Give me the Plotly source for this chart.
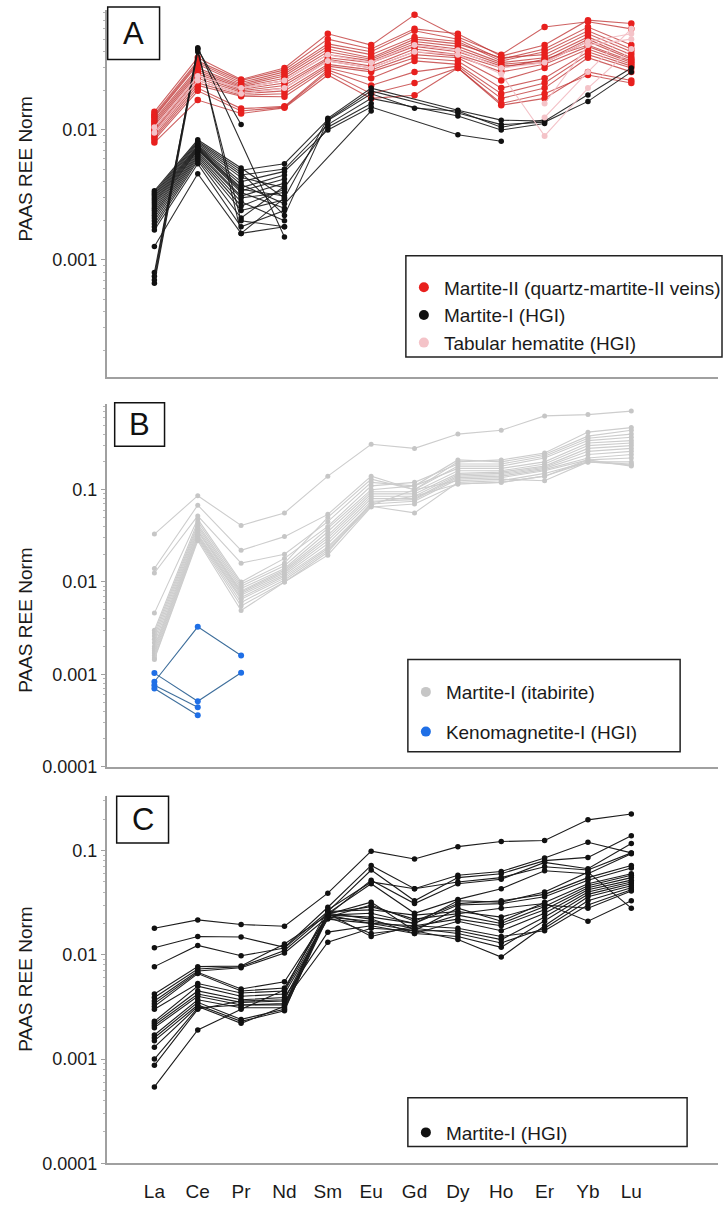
import plotly.graph_objects as go

# ---------------- data ----------------
ELEMENTS = ["La", "Ce", "Pr", "Nd", "Sm", "Eu", "Gd", "Dy", "Ho", "Er", "Yb", "Lu"]
N = None

# Panel A - Martite-II (quartz-martite-II veins)
A_MARTITE_II = [
    [0.0138, 0.036, 0.0245, 0.030, 0.055, 0.045, 0.077, 0.052, 0.038, 0.062, 0.068, 0.060],
    [0.0132, 0.034, 0.0240, 0.029, 0.050, 0.042, 0.060, 0.055, 0.037, 0.045, 0.070, 0.066],
    [0.0128, 0.033, 0.0232, 0.028, 0.046, 0.040, 0.058, 0.050, 0.035, 0.042, 0.062, 0.045],
    [0.0125, 0.032, 0.0225, 0.027, 0.044, 0.038, 0.052, 0.048, 0.034, 0.040, 0.058, 0.042],
    [0.0120, 0.030, 0.0220, 0.026, 0.042, 0.036, 0.050, 0.046, 0.036, 0.038, 0.055, 0.040],
    [0.0116, 0.029, 0.0215, 0.025, 0.040, 0.035, 0.048, 0.044, 0.033, 0.036, 0.052, 0.038],
    [0.0112, 0.028, 0.0210, 0.024, 0.038, 0.034, 0.046, 0.042, 0.032, 0.034, 0.050, 0.036],
    [0.0108, 0.027, 0.0205, 0.023, 0.036, 0.033, 0.044, 0.040, 0.031, 0.033, 0.048, 0.035],
    [0.0104, 0.026, 0.0200, 0.022, 0.035, 0.031, 0.042, 0.038, 0.030, 0.035, 0.045, 0.034],
    [0.0100, 0.025, 0.0195, 0.021, 0.034, 0.030, 0.040, 0.037, 0.028, 0.032, 0.044, 0.033],
    [0.0097, 0.024, 0.0190, 0.020, 0.032, 0.029, 0.038, 0.036, 0.024, 0.030, 0.042, 0.032],
    [0.0094, 0.023, 0.0185, 0.019, 0.031, 0.028, 0.036, 0.034, 0.021, 0.025, 0.040, 0.031],
    [0.0090, 0.022, 0.0182, 0.018, 0.030, 0.025, 0.034, 0.032, 0.019, 0.023, 0.038, 0.030],
    [0.0087, 0.021, 0.0146, 0.0152, 0.029, 0.022, 0.028, 0.031, 0.0175, 0.021, 0.036, 0.028],
    [0.0084, 0.020, 0.0140, 0.0150, 0.028, 0.019, 0.023, 0.030, 0.0155, 0.0175, 0.028, 0.024],
    [0.0080, 0.017, 0.0134, 0.0148, 0.0265, 0.0175, 0.0185, 0.030, 0.016, 0.019, 0.0265, 0.023],
]

# Panel A - Martite-I (HGI)
A_MARTITE_I = [
    [0.0034, 0.0084, 0.0051, 0.0030, 0.0123, 0.021, N, 0.0142, 0.0119, 0.0117, 0.0186, 0.030],
    [0.0033, 0.0082, 0.0049, 0.0055, 0.0120, 0.020, N, 0.0135, 0.0110, 0.0115, 0.0166, 0.028],
    [0.0032, 0.0080, 0.0047, 0.0022, 0.0118, 0.019, 0.0147, 0.0140, 0.0105, 0.0120, N, N],
    [0.0031, 0.0078, 0.0045, 0.0050, 0.0110, 0.0175, N, 0.0128, 0.0100, 0.0112, N, N],
    [0.0030, 0.0076, 0.0043, 0.0036, 0.0105, 0.0160, N, N, N, N, N, N],
    [0.0029, 0.0075, 0.0040, 0.0048, 0.0100, 0.0150, N, 0.0092, 0.0082, N, N, N],
    [0.0028, 0.0074, 0.0038, 0.0027, N, 0.0140, N, N, N, N, N, N],
    [0.0027, 0.0073, 0.0036, 0.0045, N, N, N, N, N, N, N, N],
    [0.0026, 0.0072, 0.0035, 0.0031, N, N, N, N, N, N, N, N],
    [0.0025, 0.0071, 0.0034, 0.0042, N, N, N, N, N, N, N, N],
    [0.0024, 0.0070, 0.0033, 0.0025, N, N, N, N, N, N, N, N],
    [0.0023, 0.0068, 0.0031, 0.0039, N, N, N, N, N, N, N, N],
    [0.0022, 0.0066, 0.0030, 0.0033, N, N, N, N, N, N, N, N],
    [0.0021, 0.0064, 0.0028, 0.0020, N, N, N, N, N, N, N, N],
    [0.0020, 0.0062, 0.0026, 0.0035, N, N, N, N, N, N, N, N],
    [0.0019, 0.0060, 0.0024, 0.0029, N, N, N, N, N, N, N, N],
    [0.0018, 0.0058, 0.0021, 0.0037, N, N, N, N, N, N, N, N],
    [0.0017, 0.0055, 0.0018, 0.0024, N, N, N, N, N, N, N, N],
    [0.00127, 0.0046, 0.0016, 0.0018, N, N, N, N, N, N, N, N],
    [0.00080, 0.042, 0.0016, 0.0030, N, N, N, N, N, N, N, N],
    [0.00075, 0.043, N, 0.0015, N, N, N, N, N, N, N, N],
    [0.00070, 0.042, 0.011, N, N, N, N, N, N, N, N, N],
    [0.00066, 0.040, 0.0020, 0.0018, N, N, N, N, N, N, N, N],
]

# Panel A - Tabular hematite (HGI)
A_TABULAR = [
    [0.0105, 0.026, 0.021, 0.024, 0.038, 0.033, 0.045, 0.041, 0.030, 0.033, 0.048, 0.055],
    [0.0095, 0.024, 0.019, 0.021, 0.034, 0.030, 0.040, 0.038, 0.027, 0.009, 0.021, 0.042],
    [N, N, N, N, N, N, N, N, N, 0.0125, 0.028, 0.060],
    [N, N, N, N, N, N, N, N, N, 0.016, 0.045, 0.050],
]

# Panel B - Martite-I (itabirite)
B_ITABIRITE = [
    [0.033, 0.086, 0.041, 0.056, 0.14, 0.31, 0.28, 0.40, 0.44, 0.63, 0.65, 0.71],
    [0.014, 0.068, 0.022, 0.031, 0.054, 0.14, 0.10, 0.20, 0.21, 0.25, 0.42, 0.47],
    [0.0125, 0.052, 0.016, 0.020, 0.045, 0.12, 0.11, 0.21, 0.20, 0.24, 0.38, 0.44],
    [0.0046, 0.048, 0.010, 0.018, 0.040, 0.11, 0.12, 0.19, 0.19, 0.23, 0.36, 0.40],
    [0.0030, 0.045, 0.0095, 0.016, 0.050, 0.13, 0.10, 0.18, 0.18, 0.22, 0.34, 0.37],
    [0.0028, 0.042, 0.0090, 0.015, 0.038, 0.10, 0.11, 0.17, 0.17, 0.20, 0.32, 0.34],
    [0.0026, 0.040, 0.0085, 0.014, 0.035, 0.095, 0.095, 0.16, 0.16, 0.19, 0.30, 0.32],
    [0.0024, 0.038, 0.0080, 0.0135, 0.032, 0.090, 0.090, 0.15, 0.155, 0.18, 0.28, 0.30],
    [0.0022, 0.036, 0.0078, 0.013, 0.030, 0.085, 0.085, 0.145, 0.15, 0.175, 0.26, 0.28],
    [0.0020, 0.035, 0.0075, 0.0125, 0.028, 0.080, 0.080, 0.14, 0.145, 0.17, 0.24, 0.26],
    [0.0019, 0.033, 0.0072, 0.012, 0.026, 0.075, 0.078, 0.135, 0.14, 0.165, 0.22, 0.24],
    [0.0018, 0.032, 0.0068, 0.0115, 0.024, 0.070, 0.075, 0.13, 0.135, 0.16, 0.21, 0.22],
    [0.0017, 0.031, 0.0065, 0.011, 0.023, 0.068, 0.10, 0.125, 0.13, 0.125, 0.20, 0.20],
    [0.0016, 0.030, 0.0060, 0.0105, 0.022, 0.066, 0.056, 0.12, 0.125, 0.15, 0.20, 0.19],
    [0.0015, 0.029, 0.0055, 0.010, 0.021, 0.072, 0.085, 0.115, 0.12, 0.14, 0.21, 0.18],
    [0.00145, 0.028, 0.0049, 0.010, 0.0195, 0.065, 0.070, 0.115, 0.12, 0.14, 0.20, 0.185],
]

# Panel B - Kenomagnetite-I (HGI)
B_KENOMAGNETITE = [
    [0.00083, 0.00327, 0.0016, N, N, N, N, N, N, N, N, N],
    [0.00103, 0.00051, 0.00104, N, N, N, N, N, N, N, N, N],
    [0.00076, 0.00044, N, N, N, N, N, N, N, N, N, N],
    [0.00070, 0.00036, N, N, N, N, N, N, N, N, N, N],
]

# Panel C - Martite-I (HGI)
C_MARTITE_I = [
    [0.018, 0.0216, 0.0195, 0.0188, 0.039, 0.0986, 0.083, 0.109, 0.122, 0.125, 0.197, 0.224],
    [0.0117, 0.015, 0.0148, 0.0118, 0.0286, 0.072, 0.043, 0.058, 0.063, 0.085, 0.12, 0.095],
    [0.0077, 0.0123, 0.0098, 0.0116, 0.026, 0.065, 0.033, 0.055, 0.060, 0.080, 0.086, 0.139],
    [0.0042, 0.0077, 0.0078, 0.0127, 0.024, 0.052, 0.031, 0.048, 0.053, 0.077, 0.067, 0.117],
    [0.0039, 0.0073, 0.0077, 0.0110, 0.025, 0.048, 0.025, 0.034, 0.043, 0.064, 0.060, 0.093],
    [0.0036, 0.0070, 0.0075, 0.0104, 0.023, 0.030, 0.021, 0.031, 0.033, 0.038, 0.055, 0.072],
    [0.0034, 0.0068, 0.0047, 0.0055, 0.024, 0.025, 0.020, 0.030, 0.031, 0.036, 0.052, 0.068],
    [0.0032, 0.0066, 0.0045, 0.0048, 0.0245, 0.032, 0.017, 0.028, 0.021, 0.032, 0.048, 0.060],
    [0.0030, 0.0053, 0.0043, 0.0045, 0.023, 0.021, 0.018, 0.024, 0.020, 0.029, 0.046, 0.058],
    [0.0023, 0.0050, 0.0040, 0.0042, 0.022, 0.020, 0.019, 0.022, 0.019, 0.027, 0.044, 0.055],
    [0.0022, 0.0045, 0.0037, 0.0039, 0.0165, 0.019, 0.016, 0.021, 0.017, 0.025, 0.042, 0.052],
    [0.0021, 0.0042, 0.0035, 0.0036, 0.0132, 0.018, 0.017, 0.017, 0.014, 0.023, 0.040, 0.050],
    [0.0020, 0.0040, 0.0033, 0.0033, 0.025, 0.022, 0.016, 0.015, 0.0118, 0.021, 0.038, 0.048],
    [0.0017, 0.0037, 0.0031, 0.0031, 0.024, 0.020, 0.017, 0.014, 0.0095, 0.019, 0.036, 0.046],
    [0.0016, 0.0035, 0.0024, 0.0030, 0.023, 0.016, 0.018, 0.016, 0.013, 0.018, 0.033, 0.044],
    [0.0015, 0.0033, 0.0023, 0.0029, 0.025, 0.015, 0.019, 0.018, 0.015, 0.017, 0.030, 0.042],
    [0.0013, 0.0032, 0.0022, 0.0032, 0.026, 0.027, 0.024, 0.026, 0.023, 0.030, 0.028, 0.041],
    [0.0010, 0.0031, 0.0033, 0.0034, 0.025, 0.029, 0.022, 0.025, 0.028, 0.031, 0.021, 0.033],
    [0.00087, 0.0030, 0.0036, 0.0037, 0.024, 0.023, 0.020, 0.033, 0.032, 0.040, 0.062, 0.028],
    [0.00054, 0.0019, 0.0030, 0.0046, 0.027, 0.050, 0.043, 0.050, 0.055, 0.070, 0.065, 0.095],
]

Y_TICK_VALUES = [0.0001, 0.001, 0.01, 0.1]
Y_TICK_TEXT = ["0.0001", "0.001", "0.01", "0.1"]

# ---------------- layout helpers ----------------
W, H = 726, 1207
FONT = "Liberation Sans, Arial, sans-serif"


def fx(px):
    return px / W


def fy(py):
    return 1 - py / H


X_LEFT, X_RIGHT = 107, 720
PANELS = {
    # name: (axis suffix, top px, bottom px, log range)
    "A": ("", 10, 380, [-3.90, -1.076]),
    "B": ("2", 407, 773, [-4.0, -0.068]),
    "C": ("3", 803, 1173, [-4.0, -0.48]),
}

fig = go.Figure()


def add_series(rows, suffix, line_color, marker_color, msize, lwidth=1.1):
    for row in rows:
        fig.add_trace(go.Scatter(
            x=ELEMENTS, y=row, mode="lines+markers", connectgaps=True,
            line=dict(color=line_color, width=lwidth),
            marker=dict(color=marker_color, size=msize),
            xaxis="x" + suffix, yaxis="y" + suffix,
            showlegend=False, hoverinfo="skip",
        ))


def add_legend_item(name, color, legend, suffix, group):
    fig.add_trace(go.Scatter(
        x=[None], y=[None], mode="markers", name=name,
        marker=dict(color=color, size=10),
        xaxis="x" + suffix, yaxis="y" + suffix,
        legend=legend, legendgroup=group, showlegend=True,
    ))


# Panel A
add_series(A_MARTITE_II, "", "rgba(190,45,45,0.75)", "rgb(232,32,30)", 6.5)
add_series(A_MARTITE_I, "", "rgba(25,25,25,0.9)", "#111111", 5.5)
add_series(A_TABULAR, "", "rgba(242,190,196,0.95)", "#f4c3c8", 6)
# Panel B
add_series(B_ITABIRITE, "2", "#cdcdcd", "#c6c6c6", 5)
add_series(B_KENOMAGNETITE, "2", "#3f6f9c", "#1f6fe6", 6)
# Panel C
add_series(C_MARTITE_I, "3", "#1c1c1c", "#111111", 5.5)

add_legend_item("Martite-II (quartz-martite-II veins)", "rgb(232,32,30)", "legend", "", "a1")
add_legend_item("Martite-I (HGI)", "#111111", "legend", "", "a2")
add_legend_item("Tabular hematite (HGI)", "#f4c3c8", "legend", "", "a3")
add_legend_item("Martite-I (itabirite)", "#c6c6c6", "legend2", "2", "b1")
add_legend_item("Kenomagnetite-I (HGI)", "#1f6fe6", "legend2", "2", "b2")
add_legend_item("Martite-I (HGI)", "#111111", "legend3", "3", "c1")

minor_vals = [m * 10 ** d for d in range(-5, 1) for m in range(2, 10)]

layout = dict(
    width=W, height=H,
    margin=dict(l=0, r=0, t=0, b=0),
    paper_bgcolor="white", plot_bgcolor="white",
    font=dict(family=FONT, size=18, color="#1a1a1a"),
    showlegend=True,
)

shapes = []
annotations = []
for name, (suf, top, bot, rng) in PANELS.items():
    layout["xaxis" + suf] = dict(
        domain=[fx(X_LEFT), fx(X_RIGHT)],
        anchor="y" + suf,
        type="category", categoryorder="array", categoryarray=ELEMENTS,
        range=[-1.1, 13.0],
        showline=True, linecolor="#a0a0a0", linewidth=1.5,
        showgrid=False, zeroline=False, ticks="",
        showticklabels=(name == "C"),
        ticklabelstandoff=10,
        tickfont=dict(size=19, family=FONT, color="#1a1a1a"),
    )
    layout["yaxis" + suf] = dict(
        domain=[fy(bot), fy(top)],
        anchor="x" + suf,
        type="log", range=rng,
        tickmode="array", tickvals=Y_TICK_VALUES, ticktext=Y_TICK_TEXT,
        ticks="outside", ticklen=4, tickcolor="#a0a0a0",
        minor=dict(tickmode="array", tickvals=minor_vals, ticks="outside",
                   ticklen=2, tickcolor="#b5b5b5"),
        showline=True, linecolor="#a0a0a0", linewidth=1.5,
        showgrid=False, zeroline=False,
        tickfont=dict(size=18, family=FONT, color="#1a1a1a"),
    )

# y-axis titles
for ycen in (170, 625, 987):
    annotations.append(dict(
        text="PAAS REE Norm", x=fx(26), y=fy(ycen), xref="paper", yref="paper",
        showarrow=False, textangle=-90, font=dict(size=19, family=FONT, color="#1a1a1a"),
        xanchor="center", yanchor="middle",
    ))

# panel letter boxes
for letter, (x0, y0, x1, y1) in {"A": (108, 7, 160, 60), "B": (115, 406, 165, 450),
                                  "C": (117, 803, 169, 850)}.items():
    shapes.append(dict(type="rect", xref="paper", yref="paper",
                       x0=fx(x0), x1=fx(x1), y0=fy(y1), y1=fy(y0),
                       line=dict(color="#111111", width=1.5), fillcolor="white"))
    annotations.append(dict(text=letter, x=fx((x0 + x1) / 2), y=fy((y0 + y1) / 2),
                            xref="paper", yref="paper", showarrow=False,
                            font=dict(size=31, family=FONT, color="#111111"),
                            xanchor="center", yanchor="middle"))

# legend boxes: (box px), legend centre px, group gap
legend_boxes = {
    "legend": ((407, 258, 724, 360), 318, 0),
    "legend2": ((409, 665, 682, 758), 718, 12),
    "legend3": ((409, 1107, 689, 1156), 1142, 0),
}
for key, ((x0, y0, x1, y1), ycen, gap) in legend_boxes.items():
    shapes.append(dict(type="rect", xref="paper", yref="paper",
                       x0=fx(x0), x1=fx(x1), y0=fy(y1), y1=fy(y0),
                       line=dict(color="#222222", width=1.5)))
    layout[key] = dict(
        x=fx(x0 - 2), y=fy(ycen), xanchor="left", yanchor="middle",
        bgcolor="rgba(0,0,0,0)", borderwidth=0,
        font=dict(size=19, family=FONT, color="#1a1a1a"),
        traceorder="grouped",
        tracegroupgap=gap,
        itemclick=False, itemdoubleclick=False,
    )

layout["shapes"] = shapes
layout["annotations"] = annotations
fig.update_layout(**layout)

fig.write_html("out.html")
